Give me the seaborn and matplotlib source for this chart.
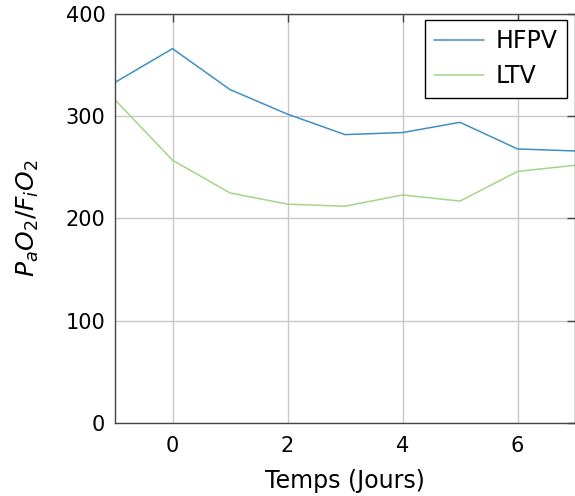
import pandas as pd
import matplotlib
matplotlib.use("Agg")
import matplotlib.pyplot as plt
import seaborn as sns

# day index and the two ventilation groups
jours = [-1, 0, 1, 2, 3, 4, 5, 6, 7]
hfpv = [333, 366, 326, 302, 282, 284, 294, 268, 266]
ltv = [316, 257, 225, 214, 212, 223, 217, 246, 252]

df = pd.DataFrame({
    "jour": jours * 2,
    "ratio": hfpv + ltv,
    "groupe": ["HFPV"] * len(jours) + ["LTV"] * len(jours),
})

sns.set_style("whitegrid")
plt.rcParams["font.family"] = ["DejaVu Sans"]
plt.rcParams["mathtext.fontset"] = "dejavusans"
plt.rcParams["text.color"] = "black"
plt.rcParams["axes.labelcolor"] = "black"

fig = plt.figure(figsize=(5.75, 4.96), dpi=100)
ax = fig.add_axes([0.2, 0.147, 0.8, 0.825])

sns.lineplot(
    data=df, x="jour", y="ratio", hue="groupe",
    palette={"HFPV": "#3f8fc4", "LTV": "#a3d688"},
    linewidth=1.1, ax=ax,
)

ax.set_xlim(-1, 7)
ax.set_ylim(0, 400)
ax.set_xticks([0, 2, 4, 6])
ax.set_yticks([0, 100, 200, 300, 400])
ax.grid(True, color="#c8c8c8", linewidth=1.0)
for side in ["left", "top", "bottom", "right"]:
    ax.spines[side].set_color("#444444")
    ax.spines[side].set_linewidth(1.0)
ax.tick_params(axis="both", direction="in", length=6, width=1.0,
               colors="#444444", labelcolor="black", labelsize=15,
               top=True, right=True)
ax.tick_params(axis="x", pad=9)
ax.tick_params(axis="y", pad=7)
ax.set_xlabel("Temps (Jours)", fontsize=17, labelpad=10, color="black")
ax.set_ylabel("$P_aO_2/F_iO_2$", fontsize=18, labelpad=18, color="black")

leg = ax.legend(loc="upper right", fontsize=17, frameon=True, fancybox=False,
                handlelength=2.1, handletextpad=0.5, borderpad=0.4,
                labelspacing=0.45, borderaxespad=0,
                bbox_to_anchor=(0.983, 0.985))
leg.get_frame().set_edgecolor("black")
leg.get_frame().set_linewidth(1.0)
leg.get_frame().set_alpha(1.0)
leg.set_title(None)
for t in leg.get_texts():
    t.set_color("black")

fig.savefig("out.png", dpi=100)
